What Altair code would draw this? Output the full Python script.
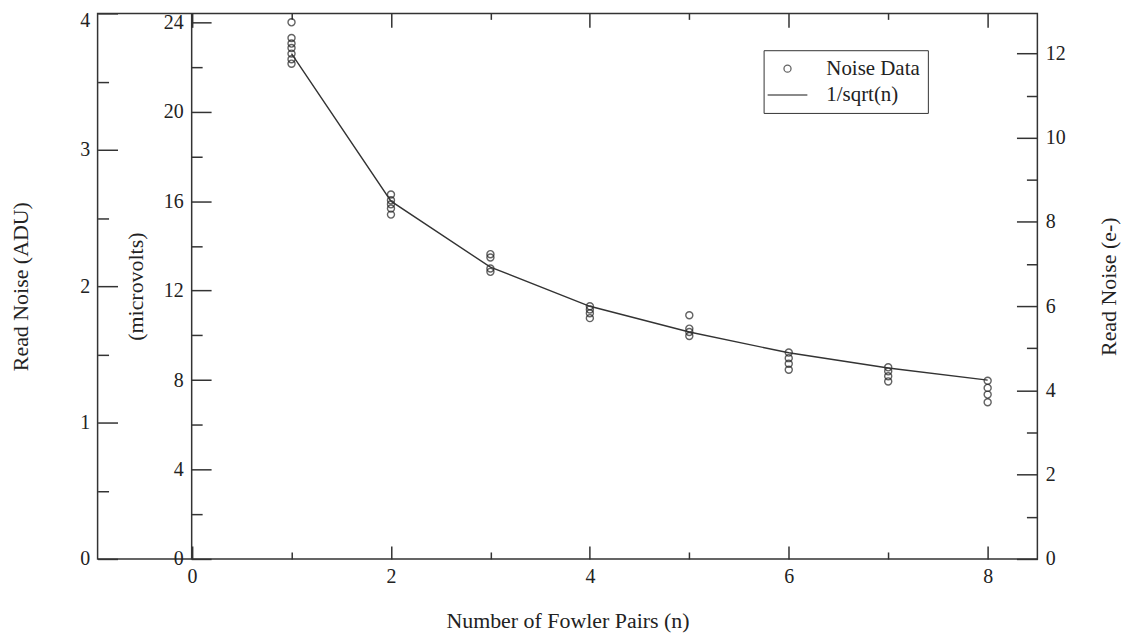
import altair as alt
import pandas as pd

# ---- data (microvolts) ----
pair_n = [1] * 7 + [2] * 5 + [3] * 4 + [4] * 4 + [5] * 4 + [6] * 4 + [7] * 4 + [8] * 4
noise_uv = [24.0, 23.3, 23.05, 22.85, 22.6, 22.35, 22.15,
            16.3, 16.04, 15.86, 15.67, 15.4,
            13.63, 13.48, 12.99, 12.84,
            11.3, 11.16, 10.99, 10.77,
            10.9, 10.3, 10.15, 9.97,
            9.23, 8.98, 8.73, 8.46,
            8.57, 8.39, 8.17, 7.94,
            7.97, 7.65, 7.35, 7.01]
fit_n = [1, 2, 3, 4, 5, 6, 7, 8]
fit_uv = [22.6, 16.0, 13.05, 11.3, 10.15, 9.22, 8.54, 8.0]

series = ["Noise Data", "1/sqrt(n)"]
x_ticks_major = [0, 2, 4, 6, 8]
x_ticks_minor = [1, 3, 5, 7]
adu_major = [0, 1, 2, 3, 4]
adu_labels_low = [0, 1, 2, 3]
adu_labels_top = [4]
adu_minor = [0.5, 1.5, 2.5, 3.5]
uv_major = [0, 4, 8, 12, 16, 20, 24]
uv_minor = [2, 6, 10, 14, 18, 22]
e_major = [0, 2, 4, 6, 8, 10, 12]
e_minor = [1, 3, 5, 7, 9, 11]

X_DOMAIN = [-0.95, 8.5]
ADU_DOMAIN = [0, 4.0]
UV_DOMAIN = [0, 24.4]
E_DOMAIN = [0, 12.95]

W, H = 944, 548
FONT = "Liberation Serif"
TXT = "#222222"
LN = "#333333"

pts = pd.DataFrame({"n": pair_n, "uv": noise_uv, "series": "Noise Data"})
fit = pd.DataFrame({"n": fit_n, "uv": fit_uv})

xs = alt.Scale(domain=X_DOMAIN, nice=False, zero=False)


def ys(dom):
    return alt.Scale(domain=dom, nice=False, zero=False)


common = dict(grid=False, labelFont=FONT, labelFontSize=20, labelColor=TXT,
              titleFont=FONT, titleFontSize=22, titleFontWeight="normal", titleColor=TXT,
              domainColor=LN, tickColor=LN, tickWidth=1.5, domainWidth=1.5)


def tick_axis(orient, values, size, offset):
    return alt.Axis(orient=orient, values=values, tickSize=size, offset=offset,
                    labels=False, domain=False, title=None, **common)


def label_axis(orient, values, title, title_pad, offset=0, domain=False, **extra):
    kw = dict(common)
    kw.update(extra)
    if title is None:
        return alt.Axis(orient=orient, values=values, ticks=False, tickSize=0, labelPadding=8,
                        offset=offset, domain=domain, title=None, format="d", **kw)
    return alt.Axis(orient=orient, values=values, ticks=False, tickSize=0, labelPadding=8,
                    offset=offset, domain=domain, title=title, titlePadding=title_pad,
                    format="d", **kw)


def make_legend():
    return alt.Legend(title=None, orient="none", legendX=669, legendY=37,
                      strokeColor=LN, fillColor="white", padding=8,
                      labelFont=FONT, labelFontSize=21, labelColor=TXT,
                      labelOffset=23, rowPadding=0,
                      symbolStrokeWidth=1.3, symbolStrokeColor=TXT)


# points (microvolts scale); legend line symbol is a horizontal path
points = alt.Chart(pts).mark_point(filled=False, color=TXT, strokeWidth=1.4).encode(
    x=alt.X("n:Q", scale=xs,
            axis=label_axis("bottom", x_ticks_major, "Number of Fowler Pairs (n)", 24)),
    y=alt.Y("uv:Q", scale=ys(UV_DOMAIN),
            axis=label_axis("left", uv_major, "(microvolts)", 16, offset=-94, domain=True)),
    shape=alt.Shape("series:N",
                    scale=alt.Scale(domain=series, range=["circle", "M-1.33,0H1.33"]),
                    legend=make_legend()),
    size=alt.Size("series:N", scale=alt.Scale(type="ordinal", domain=series, range=[50, 900]),
                  legend=make_legend()),
)

line = alt.Chart(fit).mark_line(color=LN, strokeWidth=1.4).encode(
    x=alt.X("n:Q", scale=xs, axis=tick_axis("top", x_ticks_major, 13, -H)),
    y=alt.Y("uv:Q", scale=ys(UV_DOMAIN), axis=tick_axis("right", uv_major, 20, -(W - 94))),
)


def ghost(dom, xaxis, yaxis):
    return alt.Chart(pts).mark_point(opacity=0).encode(
        x=alt.X("n:Q", scale=xs, axis=xaxis),
        y=alt.Y("uv:Q", scale=ys(dom), axis=yaxis),
    )


layers = [
    points,
    line,
    ghost(UV_DOMAIN, tick_axis("top", x_ticks_minor, 7, -H),
          tick_axis("right", uv_minor, 11, -(W - 94))),
    ghost(ADU_DOMAIN, tick_axis("bottom", x_ticks_major, 14, -H),
          label_axis("left", adu_labels_low, "Read Noise (ADU)", 47)),
    ghost(ADU_DOMAIN, None, label_axis("left", adu_labels_top, None, 0, labelOffset=7)),
    ghost(ADU_DOMAIN, tick_axis("bottom", x_ticks_minor, 6, -H),
          tick_axis("right", adu_major, 20, -W)),
    ghost(ADU_DOMAIN, None, tick_axis("right", adu_minor, 11, -W)),
    ghost(E_DOMAIN, None, label_axis("right", e_major, "Read Noise (e-)", 33,
                                     titleAngle=270, titleBaseline="top")),
    ghost(E_DOMAIN, None, tick_axis("left", e_major, 21, -W)),
    ghost(E_DOMAIN, None, tick_axis("left", e_minor, 11, -W)),
]

chart = alt.layer(*layers).resolve_scale(y="independent").resolve_axis(
    x="independent", y="independent"
).properties(
    width=W, height=H,
    autosize=alt.AutoSizeParams(type="none"),
    padding={"left": 90, "top": 4, "right": 85, "bottom": 76},
    background="white",
).configure_view(stroke=LN, strokeWidth=1.5)

chart.save("out.html", embed_options={"renderer": "svg", "actions": False})
